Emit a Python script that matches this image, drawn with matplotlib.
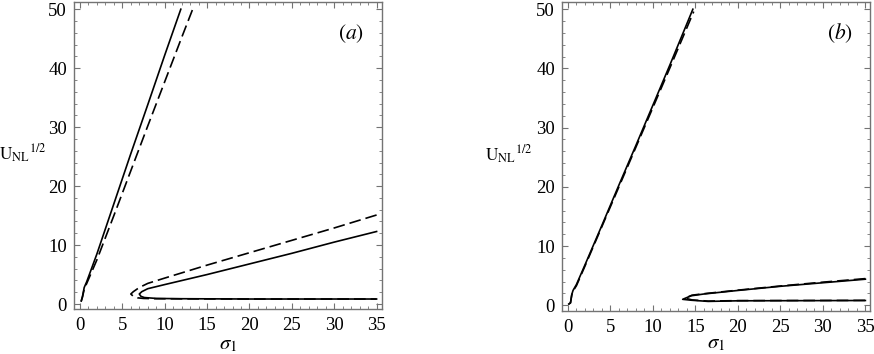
import matplotlib
matplotlib.use("Agg")
import matplotlib.pyplot as plt
from matplotlib.ticker import MultipleLocator

plt.rcParams["font.family"] = ["Liberation Serif", "DejaVu Serif"]
plt.rcParams["mathtext.fontset"] = "stix"

# ==== Data ====
# panel (a)
a_solid_up_x = [0.15, 0.3, 0.5, 0.8, 2.0, 4.0, 6.0, 8.0, 10.0, 11.9]
a_solid_up_y = [0.5, 1.3, 2.8, 3.8, 8.5, 17.0, 25.5, 33.8, 42.2, 50.0]
a_dash_up_x = [0.15, 0.3, 0.5, 0.8, 2.0, 4.0, 6.0, 8.0, 10.0, 12.0, 13.3]
a_dash_up_y = [0.5, 1.2, 2.5, 3.5, 7.5, 15.0, 22.6, 30.2, 37.7, 45.2, 50.0]
a_solid_lo_x = [35.0, 30.0, 25.0, 20.0, 15.0, 10.0, 8.0, 7.3, 7.0, 7.2, 7.6, 9.0, 12.0, 20.0, 35.0]
a_solid_lo_y = [12.3, 10.5, 8.6, 6.8, 5.0, 3.3, 2.6, 2.1, 1.7, 1.3, 1.1, 0.95, 0.9, 0.85, 0.85]
a_dash_lo_x = [35.0, 30.0, 25.0, 20.0, 15.0, 10.0, 8.0, 7.0, 6.3, 6.0, 6.3, 6.8, 7.5, 9.0, 12.0, 20.0, 35.0]
a_dash_lo_y = [15.1, 12.9, 10.8, 8.7, 6.6, 4.4, 3.5, 2.8, 2.1, 1.7, 1.3, 1.05, 0.95, 0.9, 0.88, 0.85, 0.85]

# panel (b)
b_solid_up_x = [0.1, 0.3, 0.45, 0.6, 1.0, 2.0, 4.0, 6.0, 8.0, 10.0, 12.0, 14.7]
b_solid_up_y = [0.2, 0.4, 1.8, 2.5, 3.5, 6.8, 13.5, 20.3, 27.0, 33.8, 40.6, 50.0]
b_dash_up_x = [0.1, 0.3, 0.45, 0.6, 1.0, 2.0, 4.0, 6.0, 8.0, 10.0, 12.0, 14.8]
b_dash_up_y = [0.2, 0.4, 1.7, 2.4, 3.3, 6.6, 13.3, 20.0, 26.7, 33.4, 40.1, 49.6]
b_solid_lo_x = [35.0, 30.0, 25.0, 20.0, 16.0, 14.5, 13.5, 14.5, 16.5, 20.0, 35.0]
b_solid_lo_y = [4.4, 3.8, 3.2, 2.5, 1.9, 1.6, 1.0, 0.85, 0.65, 0.75, 0.8]
b_dash_lo_x = [35.0, 30.0, 25.0, 20.0, 16.0, 14.6, 13.8, 14.6, 16.5, 20.0, 35.0]
b_dash_lo_y = [4.5, 3.9, 3.25, 2.55, 1.95, 1.7, 1.2, 0.9, 0.7, 0.78, 0.82]

x_ticks = [0, 5, 10, 15, 20, 25, 30, 35]
y_ticks = [0, 10, 20, 30, 40, 50]

fig = plt.figure(figsize=(8.74, 3.54), dpi=100)
ax_a = fig.add_axes([0.0847, 0.127, 0.352, 0.867])
ax_b = fig.add_axes([0.643, 0.121, 0.352, 0.873])

panels = [
    (ax_a, "a", (-0.7, 35.6), (-0.85, 51.2), -0.09, -0.085,
     [(a_solid_up_x, a_solid_up_y, "-"), (a_dash_up_x, a_dash_up_y, "--"),
      (a_solid_lo_x, a_solid_lo_y, "-"), (a_dash_lo_x, a_dash_lo_y, "--")]),
    (ax_b, "b", (-0.7, 35.5), (-1.0, 51.2), -0.097, -0.075,
     [(b_solid_up_x, b_solid_up_y, "-"), (b_dash_up_x, b_dash_up_y, "--"),
      (b_solid_lo_x, b_solid_lo_y, "-"), (b_dash_lo_x, b_dash_lo_y, "--")]),
]

for ax, tag, xl, yl, ylab_x, xlab_y, curves in panels:
    for xs, ys, ls in curves:
        if ls == "--":
            ax.plot(xs, ys, color="black", lw=1.2, dashes=(7, 3))
        else:
            ax.plot(xs, ys, color="black", lw=1.2)
    ax.set_xlim(*xl)
    ax.set_ylim(*yl)
    ax.set_xticks(x_ticks)
    ax.set_yticks(y_ticks)
    ax.xaxis.set_minor_locator(MultipleLocator(1))
    ax.yaxis.set_minor_locator(MultipleLocator(2))
    ax.tick_params(which="both", direction="in", top=True, right=True,
                   color="0.45", labelsize=13.5)
    ax.tick_params(axis="x", pad=6)
    ax.tick_params(axis="y", pad=5)
    ax.tick_params(which="major", length=4, width=0.8)
    ax.tick_params(which="minor", length=2, width=0.6)
    for s in ax.spines.values():
        s.set_color("0.45")
        s.set_linewidth(1.0)
    ax.set_xlabel(r"$\sigma_1$", fontsize=15)
    ax.xaxis.set_label_coords(0.5, xlab_y)
    ax.set_ylabel(r"$\mathrm{U}_{\mathrm{NL}}{}^{1/2}$", fontsize=12.5,
                  rotation=0, ha="right", va="center")
    ax.yaxis.set_label_coords(ylab_x, 0.505)
    ax.text(32.0, 45.9, r"$(\mathit{%s})$" % tag, fontsize=15.5, ha="center", va="center")

fig.savefig("out.png", dpi=100)
